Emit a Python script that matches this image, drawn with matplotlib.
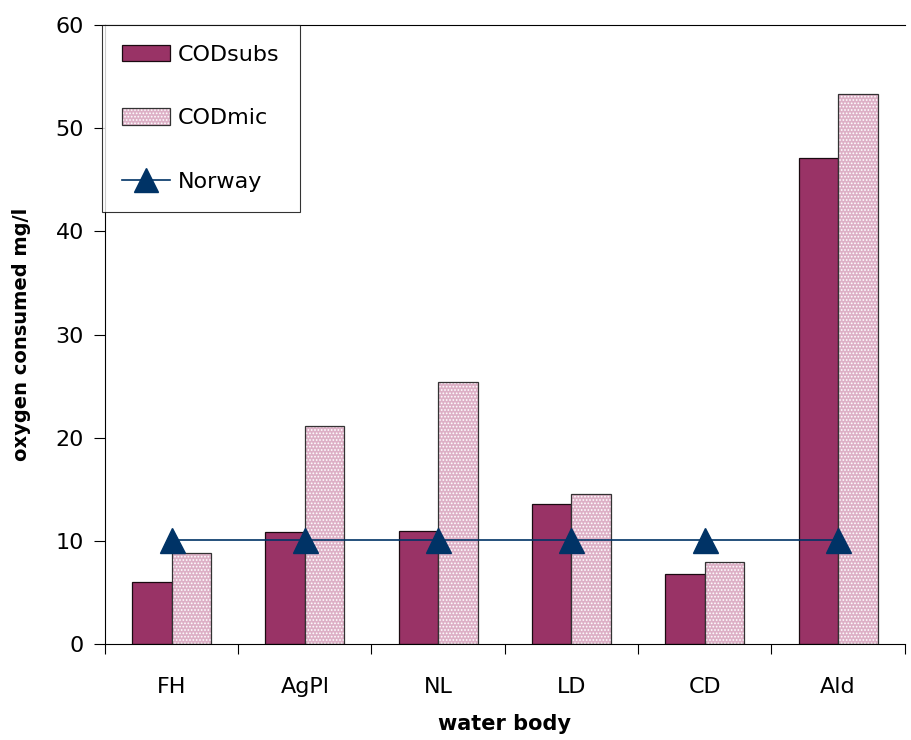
import matplotlib
matplotlib.use("Agg")
import matplotlib.pyplot as plt
from matplotlib.patches import Patch
from matplotlib.lines import Line2D
from matplotlib.legend_handler import HandlerTuple
import numpy as np

plt.rcParams['font.family'] = ['DejaVu Sans']
plt.rcParams['hatch.linewidth'] = 0.8

categories = ["FH", "AgPl", "NL", "LD", "CD", "Ald"]
cod_subs = [6.0, 10.85, 10.95, 13.6, 6.8, 47.1]
cod_mic = [8.8, 21.1, 25.4, 14.5, 7.95, 53.3]
norway = [10.1, 10.1, 10.1, 10.1, 10.1, 10.1]

fig = plt.figure(figsize=(9.12, 7.4), dpi=100)
ax = fig.add_axes([0.115, 0.1297, 0.877, 0.8365])

x = np.arange(len(categories))
w = 0.296
subs_color = '#993366'
mic_color = '#DDB0C6'
ax.bar(x - w/2, cod_subs, width=w, color=subs_color, edgecolor='#1a0a10', linewidth=0.9, zorder=2)
# pink fill with fine white dot texture, then outline
ax.bar(x + w/2, cod_mic, width=w, color=mic_color, edgecolor='white', linewidth=0,
       hatch='.....', zorder=2)
ax.bar(x + w/2, cod_mic, width=w, fill=False, edgecolor='#333333', linewidth=0.9, zorder=2.1)
ax.plot(x, norway, color='#003366', linewidth=1.2, marker='^', markersize=18,
        markerfacecolor='#003366', markeredgecolor='#003366', zorder=3)

ax.set_xlim(-0.5, len(categories) - 0.5)
ax.set_ylim(0, 60)
ax.set_yticks(np.arange(0, 61, 10))
ax.set_xticks(x)
ax.set_xticklabels(categories)
ax.set_xticks(np.arange(-0.5, len(categories), 1), minor=True)
ax.tick_params(axis='x', which='major', length=0, pad=24, labelsize=16)
ax.tick_params(axis='x', which='minor', length=7, direction='out', width=0.8)
ax.tick_params(axis='y', length=8, direction='out', width=0.8, labelsize=16, pad=7)

ax.spines['right'].set_visible(False)
for s in ['left', 'bottom', 'top']:
    ax.spines[s].set_linewidth(0.8)

ax.set_ylabel('oxygen consumed mg/l', fontsize=14, fontweight='bold', labelpad=18)
ax.set_xlabel('water body', fontsize=15, fontweight='bold', labelpad=12)

h_subs = Patch(facecolor=subs_color, edgecolor='#1a0a10', linewidth=0.9)
h_mic = (Patch(facecolor=mic_color, edgecolor='white', linewidth=0, hatch='.....'),
         Patch(fill=False, edgecolor='#333333', linewidth=0.9))
h_nor = Line2D([], [], color='#003366', linewidth=1.2, marker='^', markersize=17,
               markerfacecolor='#003366', markeredgecolor='#003366')

leg = ax.legend([h_subs, h_mic, h_nor], ['CODsubs', 'CODmic', 'Norway'],
                handler_map={tuple: HandlerTuple(ndivide=1, pad=0)},
                loc='upper left', bbox_to_anchor=(-0.003, 1.0), fontsize=16, frameon=True,
                fancybox=False, edgecolor='black', borderpad=0.9, labelspacing=1.95,
                handlelength=2.15, handleheight=0.75, handletextpad=0.35, borderaxespad=0)
leg.get_frame().set_linewidth(0.8)

fig.savefig('out.png', dpi=100)
